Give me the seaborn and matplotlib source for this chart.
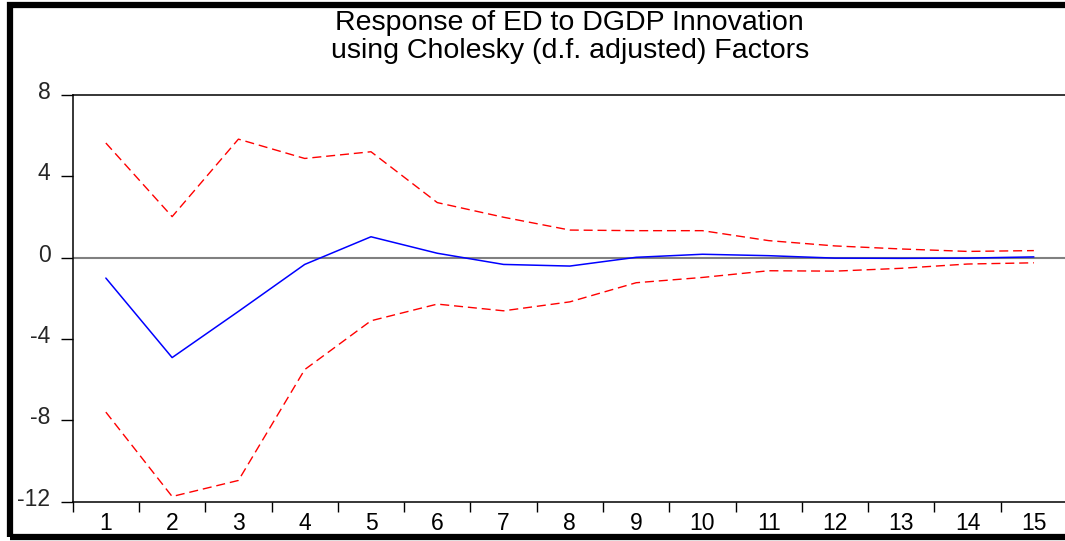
import matplotlib
matplotlib.use("Agg")
import matplotlib.pyplot as plt
import matplotlib.transforms as mtransforms
from matplotlib.patches import Rectangle
from matplotlib.ticker import FixedLocator, NullFormatter
import seaborn as sns
import pandas as pd

# ---- data ----
periods = list(range(1, 16))
response = [-1.00, -4.91, -2.64, -0.33, 1.03, 0.22, -0.33, -0.41, 0.02, 0.17,
            0.10, -0.02, -0.03, -0.02, 0.04]
upper = [5.64, 2.02, 5.83, 4.88, 5.21, 2.71, 1.99, 1.36, 1.33, 1.33,
         0.84, 0.58, 0.43, 0.31, 0.35]
lower = [-7.59, -11.74, -10.95, -5.50, -3.10, -2.28, -2.61, -2.17, -1.23, -0.97,
         -0.64, -0.66, -0.52, -0.31, -0.25]
y_ticks = [8, 4, 0, -4, -8, -12]
title_text = "Response of ED to DGDP Innovation\nusing Cholesky (d.f. adjusted) Factors"

df = pd.DataFrame({"period": periods, "response": response,
                   "upper": upper, "lower": lower})

sns.set_style("white")
plt.rcParams["font.family"] = ["Liberation Sans", "DejaVu Sans"]

W, H = 1065, 541
fig = plt.figure(figsize=(W / 100, H / 100), dpi=100)
ax = fig.add_axes([72.7 / W, (H - 501.8) / H, (1067 - 72.7) / W, (501.8 - 95) / H])

ax.axhline(0, color="#808080", lw=1.5, zorder=1)
sns.lineplot(data=df, x="period", y="response", ax=ax, color="#0000ff", lw=1.1,
             zorder=3)
sns.lineplot(data=df, x="period", y="upper", ax=ax, color="#ff0000", lw=1.0,
             linestyle=(0, (6.5, 3.5)), zorder=2)
sns.lineplot(data=df, x="period", y="lower", ax=ax, color="#ff0000", lw=1.0,
             linestyle=(0, (6.5, 3.5)), zorder=2)

ax.set_xlim(0.5, 15.5)
ax.set_ylim(-12, 8)
ax.set_xlabel("")
ax.set_ylabel("")

ax.set_xticks(periods)
ax.set_xticklabels([str(p) for p in periods])
ax.xaxis.set_minor_locator(FixedLocator([p + 0.5 for p in [0] + periods]))
ax.xaxis.set_minor_formatter(NullFormatter())
ax.tick_params(axis="x", which="major", length=0, pad=7.5, labelsize=16.5,
               colors="black")
ax.tick_params(axis="x", which="minor", length=7.5, width=1.0, color="black",
               direction="out", bottom=True)
ax.set_yticks(y_ticks)
ax.set_yticklabels([str(v) for v in y_ticks])
ax.tick_params(axis="y", which="major", length=9, width=1.0, color="black",
               direction="out", left=True, pad=7, labelsize=16.5)
shift = mtransforms.ScaledTranslation(0, 5 / 100, fig.dpi_scale_trans)
for lab in ax.get_yticklabels():
    lab.set_transform(lab.get_transform() + shift)

for side in ["left", "bottom", "top"]:
    ax.spines[side].set_color("black")
    ax.spines[side].set_linewidth(1.1)
ax.spines["right"].set_visible(False)

ax.set_title(title_text, fontsize=20.5, pad=27, linespacing=1.08, color="black")

# outer frame of the exported graph
fig.patches.append(Rectangle((10 / W, 4.5 / H), 1.2, (H - 9) / H,
                             transform=fig.transFigure, fill=False,
                             edgecolor="black", lw=4.5))

fig.savefig("out.png", dpi=100, facecolor="white")
